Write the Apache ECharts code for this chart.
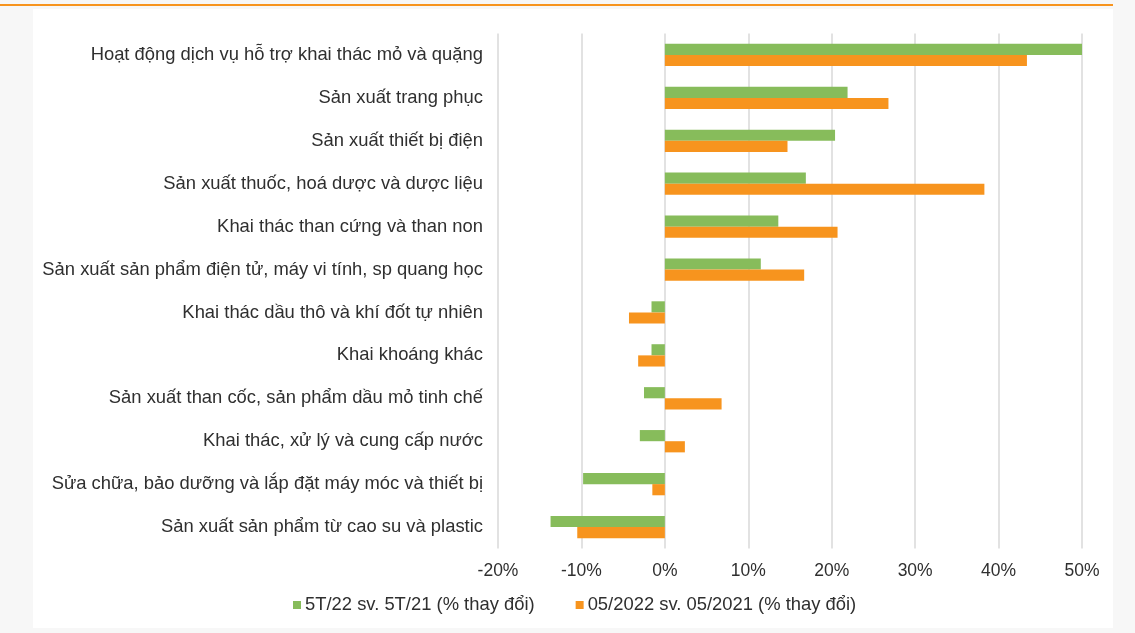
<!DOCTYPE html>
<html>
<head>
<meta charset="utf-8">
<script src="https://cdn.jsdelivr.net/npm/echarts@6/dist/echarts.min.js"></script>
<style>
  html, body { margin: 0; padding: 0; background: #f7f7f7; }
  .wrap { position: relative; width: 1135px; height: 633px; overflow: hidden; }
  .topline { position: absolute; left: 0; top: 4px; width: 1113px; height: 2px; background: #f7941e; }
  .panel { position: absolute; left: 33px; top: 9px; width: 1080px; height: 619px; background: #fff; }
  #chart { position: absolute; left: 0; top: 0; width: 1135px; height: 633px; }
</style>
</head>
<body>
<div class="wrap">
  <div class="topline"></div>
  <div class="panel"></div>
  <div id="chart"></div>
</div>
<script>
// ngành công nghiệp (top to bottom)
const categories = [
  'Hoạt động dịch vụ hỗ trợ khai thác mỏ và quặng',
  'Sản xuất trang phục',
  'Sản xuất thiết bị điện',
  'Sản xuất thuốc, hoá dược và dược liệu',
  'Khai thác than cứng và than non',
  'Sản xuất sản phẩm điện tử, máy vi tính, sp quang học',
  'Khai thác dầu thô và khí đốt tự nhiên',
  'Khai khoáng khác',
  'Sản xuất than cốc, sản phẩm dầu mỏ tinh chế',
  'Khai thác, xử lý và cung cấp nước',
  'Sửa chữa, bảo dưỡng và lắp đặt máy móc và thiết bị',
  'Sản xuất sản phẩm từ cao su và plastic'
]
const seriesNames = ['5T/22 sv. 5T/21 (% thay đổi)', '05/2022 sv. 05/2021 (% thay đổi)']
const ytdValues = [50.0, 21.9, 20.4, 16.9, 13.6, 11.5, -1.6, -1.6, -2.5, -3.0, -9.8, -13.7]
const mayValues = [43.4, 26.8, 14.7, 38.3, 20.7, 16.7, -4.3, -3.2, 6.8, 2.4, -1.5, -10.5]

const font = "'Liberation Sans', Arial, sans-serif"
const chart = echarts.init(document.getElementById('chart'))
chart.setOption({
  backgroundColor: 'transparent',
  animation: false,
  textStyle: { fontFamily: font },
  grid: { left: 498, right: 53, top: 33.5, bottom: 84.5, containLabel: false },
  legend: {
    data: seriesNames, top: 591, left: 288,
    itemWidth: 8, itemHeight: 8, itemGap: 41, icon: 'rect',
    textStyle: { color: '#2f2f2f', fontSize: 18.4, fontFamily: font, padding: [0, 0, 0, -1] }
  },
  xAxis: {
    type: 'value', min: -20, max: 50, interval: 10,
    axisLabel: { formatter: '{value}%', color: '#2f2f2f', fontSize: 17.5, margin: 14, fontFamily: font },
    axisLine: { show: false }, axisTick: { show: false },
    splitLine: { lineStyle: { color: '#d9d9d9', width: 1.5 } }
  },
  yAxis: {
    type: 'category', data: categories, inverse: true,
    axisLine: { show: false }, axisTick: { show: false },
    axisLabel: { color: '#2f2f2f', fontSize: 18.4, margin: 15, fontFamily: font }
  },
  series: [
    {
      name: seriesNames[0], type: 'bar', data: ytdValues,
      barGap: '0%', barCategoryGap: '48%',
      itemStyle: { color: '#87bc5b' }
    },
    {
      name: seriesNames[1], type: 'bar', data: mayValues,
      itemStyle: { color: '#f7941e' }
    }
  ]
})
</script>
</body>
</html>
